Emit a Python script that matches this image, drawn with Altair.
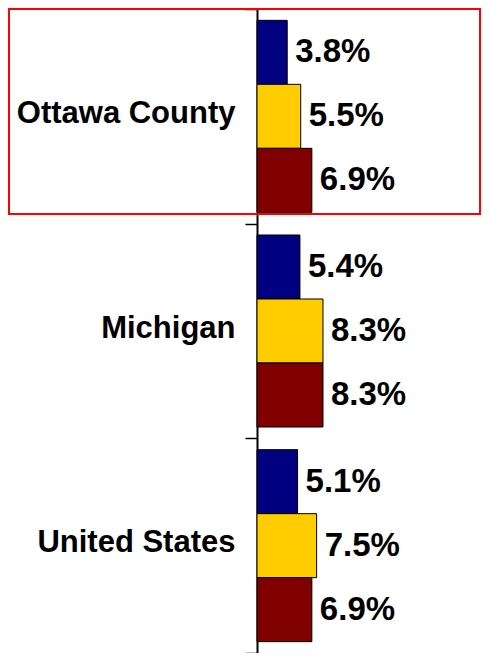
import altair as alt
import pandas as pd

categories = ["Ottawa County", "Michigan", "United States"]
series = ["Series 1", "Series 2", "Series 3"]
series1 = [3.8, 5.4, 5.1]
series2 = [5.5, 8.3, 7.5]
series3 = [6.9, 8.3, 6.9]
colors = ["#000080", "#FFCC00", "#800000"]

rows = []
for i, c in enumerate(categories):
    for s, vals in zip(series, [series1, series2, series3]):
        rows.append({"region": c, "series": s, "value": vals[i]})
df = pd.DataFrame(rows)

FONT = "Liberation Sans"

y_enc = alt.Y("region:N", sort=categories, title=None,
              scale=alt.Scale(paddingInner=0, paddingOuter=0),
              axis=alt.Axis(tickBand="extent", tickSize=12, tickColor="black",
                            tickWidth=1.5, domainColor="black", domainWidth=2,
                            labelFont=FONT, labelFontSize=31, labelFontWeight="bold",
                            labelColor="black", labelPadding=10, labelOffset=-3,
                            labelLimit=300, labelAlign="right"))
yoff = alt.YOffset("series:N", sort=series,
                   scale=alt.Scale(paddingInner=0, paddingOuter=0.177))
x_enc = alt.X("value:Q", scale=alt.Scale(domain=[0, 28.3]), axis=None)

base = alt.Chart(df)

bars = base.mark_bar(stroke="black", strokeWidth=1).encode(
    y=y_enc, yOffset=yoff, x=x_enc,
    color=alt.Color("series:N", sort=series,
                    scale=alt.Scale(domain=series, range=colors), legend=None),
)

labels = base.transform_calculate(
    label="format(datum.value, '.1f') + '%'"
).mark_text(align="left", baseline="middle", dx=8, font=FONT, fontSize=33,
            fontWeight="bold", color="black").encode(
    y=y_enc, yOffset=yoff, x=x_enc, text="label:N"
)

box = alt.Chart(alt.Data(values=[{"box": 1}])).mark_rect(
    fill=None, stroke="#FF0000", strokeWidth=2
).encode(x=alt.value(-248), x2=alt.value(223), y=alt.value(0), y2=alt.value(205))

chart = alt.layer(bars, labels, box).properties(
    width=225, height=644,
    autosize=alt.AutoSizeParams(type="none"),
    padding={"left": 249, "top": 1, "right": 0, "bottom": 0},
).configure_view(stroke=None)

chart.save("out.html", embed_options={"renderer": "svg", "actions": False})
